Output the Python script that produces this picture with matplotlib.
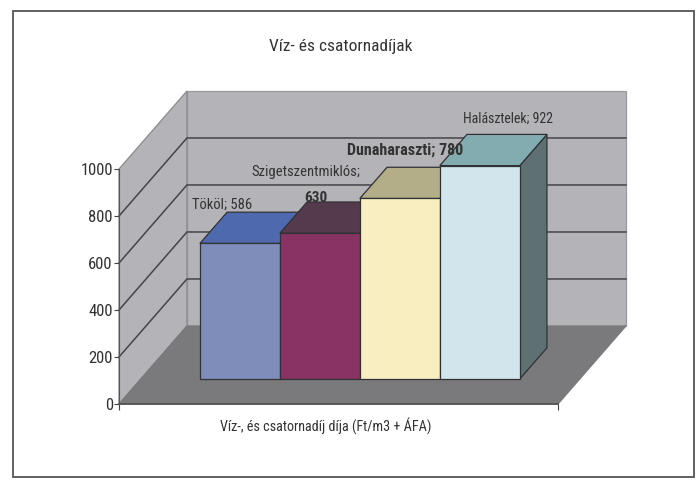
import matplotlib
matplotlib.use("Agg")
import matplotlib.pyplot as plt
from matplotlib.patches import Polygon, Rectangle

plt.rcParams['font.family'] = ['Roboto Condensed', 'DejaVu Sans']

# data
towns = ["Tököl", "Szigetszentmiklós", "Dunaharaszti", "Halásztelek"]
prices = [586, 630, 780, 922]
y_ticks = [0, 200, 400, 600, 800, 1000]

front_colors = ["#7f8dbb", "#893264", "#f8eebf", "#d2e5ec"]
top_colors = ["#4f69ae", "#55394d", "#b3ae88", "#82acb0"]
side_color = "#5f7073"
wall_color = "#b4b4b8"
floor_color = "#7a7a7c"
grid_color = "#454548"
edge_color = "#303234"
text_color = "#333333"

# oblique 3d: depth 1 moves this much in x (categories) and y (values)
DX = 0.85
DV = 332
X0, X1 = -1.24, 4.25
BAR_D0, BAR_D1 = 0.32, 0.72
BAR_SCALE = 0.985  # bars sit further back than the axis


def pt(x, v, d):
    return (x + d * DX, v + d * DV)


def poly(ax, points, color, edge=None, lw=0.9, z=2):
    ax.add_patch(Polygon(points, closed=True, facecolor=color, edgecolor=edge if edge else color,
                         linewidth=lw, clip_on=False, zorder=z))


fig = plt.figure(figsize=(6.96, 4.8), dpi=100)
fig.patches.append(Rectangle((12.5 / 696, 1 - 477 / 480), 681 / 696, 466 / 480, transform=fig.transFigure,
                             facecolor="white", edgecolor="#555555", linewidth=1.3, zorder=-5))

ax = fig.add_axes([119 / 696, 76 / 480, 439 / 696, 235 / 480])
ax.patch.set_visible(False)
ax.set_xlim(X0, X1)
ax.set_ylim(0, 1000)

# walls and floor
poly(ax, [pt(X0, 0, 1), pt(X1, 0, 1), pt(X1, 1000, 1), pt(X0, 1000, 1)], wall_color, "#9a9a9e", z=1)
poly(ax, [pt(X0, 0, 0), pt(X0, 0, 1), pt(X0, 1000, 1), pt(X0, 1000, 0)], wall_color, "#8a8a8e", z=1)
poly(ax, [pt(X0, 0, 0), pt(X1, 0, 0), pt(X1, 0, 1), pt(X0, 0, 1)], floor_color, z=1.5)

# grid on left wall and back wall
for t in y_ticks[1:-1]:
    a, b, c = pt(X0, t, 0), pt(X0, t, 1), pt(X1, t, 1)
    ax.plot([a[0], b[0], c[0]], [a[1], b[1], c[1]], color=grid_color, lw=1.1, clip_on=False, zorder=1.2)

# bars, left to right
for i, val in enumerate(prices):
    l, r = i - 0.5, i + 0.5
    h = val * BAR_SCALE
    poly(ax, [pt(l, 0, BAR_D0), pt(r, 0, BAR_D0), pt(r, h, BAR_D0), pt(l, h, BAR_D0)],
         front_colors[i], edge_color, z=3 + i * 0.1 + 0.05)
    poly(ax, [pt(l, h, BAR_D0), pt(r, h, BAR_D0), pt(r, h, BAR_D1), pt(l, h, BAR_D1)],
         top_colors[i], edge_color, z=3 + i * 0.1)
poly(ax, [pt(3.5, 0, BAR_D0), pt(3.5, 0, BAR_D1), pt(3.5, prices[-1] * BAR_SCALE, BAR_D1),
          pt(3.5, prices[-1] * BAR_SCALE, BAR_D0)], side_color, edge_color, z=3.2)

# axes
for s in ["top", "right"]:
    ax.spines[s].set_visible(False)
ax.spines["left"].set_color("#555555")
ax.spines["bottom"].set_color("#555555")
ax.spines["bottom"].set_linewidth(1.3)
for s in ax.spines.values():
    s.set_zorder(6)
ax.set_yticks(y_ticks)
ax.set_xticks([X0, X1])
ax.set_xticklabels(["", ""])
ax.tick_params(axis="y", length=3.5, labelsize=12, colors=text_color, color="#444444", pad=1)
ax.tick_params(axis="x", length=4, color="#444444")
ax.set_xlabel("Víz-, és csatornadíj díja (Ft/m3 + ÁFA)", fontsize=10.2, color=text_color, x=0.47, labelpad=2)
ax.set_title("Víz- és csatornadíjak", fontsize=12.5, color=text_color, x=0.506, pad=85)

# value labels
label_kw = dict(xycoords="data", textcoords="offset pixels", color=text_color, ha="center", va="center",
                zorder=8, annotation_clip=False)
base = [pt(i, prices[i] * BAR_SCALE, BAR_D1) for i in range(4)]
ax.annotate(f"{towns[0]}; {prices[0]}", base[0], xytext=(-45, 7), fontsize=10.5, **label_kw)
ax.annotate(f"{towns[1]};", base[1], xytext=(-41, 30), fontsize=10.5, **label_kw)
ax.annotate(f"{prices[1]}", base[1], xytext=(-31, 4), fontsize=11, fontweight="bold", **label_kw)
ax.annotate(f"{towns[2]}; {prices[2]}", base[2], xytext=(-22, 17), fontsize=11.5, fontweight="bold", **label_kw)
ax.annotate(f"{towns[3]}; {prices[3]}", base[3], xytext=(1, 16), fontsize=10, **label_kw)

fig.savefig("out.png", dpi=100)
